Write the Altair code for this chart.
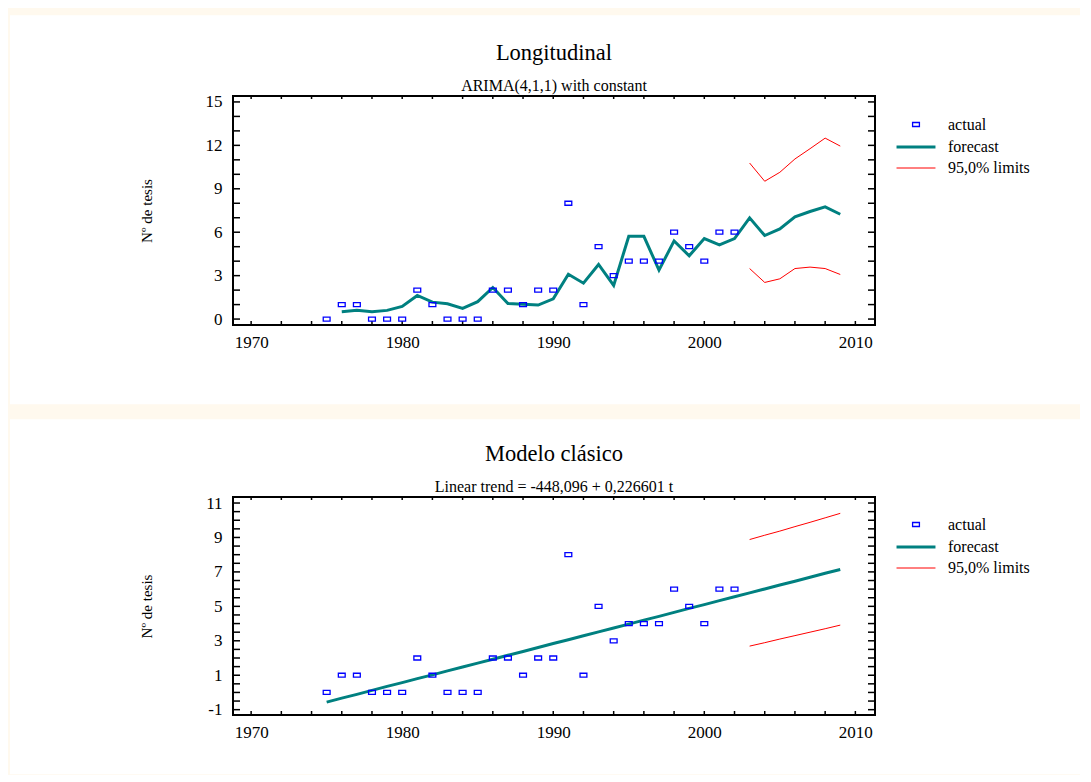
import altair as alt
import pandas as pd

# ---------------- data ----------------
years_actual = [1975, 1976, 1977, 1978, 1979, 1980, 1981, 1982, 1983, 1984,
                1985, 1986, 1987, 1988, 1989, 1990, 1991, 1992, 1993, 1994,
                1995, 1996, 1997, 1998, 1999, 2000, 2001, 2002]
actual = [0, 1, 1, 0, 0, 0, 2, 1, 0, 0,
          0, 2, 2, 1, 2, 2, 8, 1, 5, 3,
          4, 4, 4, 6, 5, 4, 6, 6]

years_forecast_top = list(range(1976, 2010))
forecast_top = [0.51, 0.60, 0.50, 0.60, 0.87, 1.63, 1.17, 1.06, 0.74, 1.20,
                2.18, 1.08, 1.03, 0.97, 1.40, 3.10, 2.48, 3.77, 2.32, 5.72,
                5.72, 3.38, 5.40, 4.37, 5.56, 5.13, 5.56, 6.99, 5.77, 6.23,
                7.06, 7.43, 7.75, 7.24]

years_limits = list(range(2003, 2010))
upper_top = [10.78, 9.52, 10.14, 11.06, 11.77, 12.50, 11.95]
lower_top = [3.49, 2.53, 2.78, 3.49, 3.59, 3.49, 3.08]

years_forecast_bottom = list(range(1975, 2010))
forecast_bottom = [-0.56, -0.33, -0.11, 0.12, 0.35, 0.57, 0.80, 1.02, 1.25, 1.48,
                   1.70, 1.93, 2.16, 2.38, 2.61, 2.84, 3.06, 3.29, 3.52, 3.74,
                   3.97, 4.20, 4.42, 4.65, 4.88, 5.10, 5.33, 5.56, 5.78, 6.01,
                   6.24, 6.46, 6.69, 6.92, 7.14]
upper_bottom = [8.88, 9.13, 9.37, 9.63, 9.88, 10.14, 10.40]
lower_bottom = [2.69, 2.89, 3.10, 3.30, 3.50, 3.70, 3.91]

x_labels = [1970, 1980, 1990, 2000, 2010]
x_ticks = list(range(1970, 2011, 2))
y_labels_top = [0, 3, 6, 9, 12, 15]
y_ticks_top = list(range(0, 16))
y_labels_bottom = [-1, 1, 3, 5, 7, 9, 11]
y_ticks_bottom = [-1, -0.5, 0, 0.5, 1, 1.5, 2, 2.5, 3, 3.5, 4, 4.5, 5, 5.5,
                  6, 6.5, 7, 7.5, 8, 8.5, 9, 9.5, 10, 10.5, 11]

SERIES = ["actual", "forecast", "95,0% limits"]
COLORS = ["#0000FF", "#008080", "#FF0000"]
WIDTHS = [1.3, 3, 1]

FONT = "Liberation Serif"
SQ = "M-0.36,-0.21H0.36V0.21H-0.36Z"
LN = "M-2.05,0H2.05"
W = 642


def make_panel(title, subtitle, fc_years, fc_vals, up, lo, ydom, ylabels,
               yticks, H, bg_top, bg_bottom, legend_y, title_offset):
    points_df = pd.DataFrame({"year": years_actual, "value": actual,
                              "series": "actual", "part": "actual"})
    lines_df = pd.concat([
        pd.DataFrame({"year": fc_years, "value": fc_vals,
                      "series": "forecast", "part": "forecast"}),
        pd.DataFrame({"year": years_limits, "value": up,
                      "series": "95,0% limits", "part": "upper"}),
        pd.DataFrame({"year": years_limits, "value": lo,
                      "series": "95,0% limits", "part": "lower"}),
    ], ignore_index=True)

    xs = alt.Scale(domain=[1968.8, 2011.3], nice=False, zero=False)
    ys = alt.Scale(domain=ydom, nice=False, zero=False)

    x_axis = alt.Axis(values=x_labels, labelExpr="datum.value + ''",
                      title=None, ticks=False, tickSize=0, domain=False,
                      grid=False, labelPadding=9, zindex=2)
    y_axis = alt.Axis(values=ylabels, labelExpr="datum.value + ''",
                      title="Nº de tesis", ticks=False, tickSize=0,
                      domain=False, grid=False, labelPadding=11,
                      titlePadding=51, zindex=2, titleFontSize=15,
                      titleFontWeight="normal")

    legend = alt.Legend(title=None, orient="none", legendX=672,
                        legendY=legend_y, symbolSize=361, labelOffset=21,
                        padding=0, rowPadding=3, labelFont=FONT,
                        labelFontSize=16, labelColor="black", labelLimit=0)

    color = alt.Color("series:N", scale=alt.Scale(domain=SERIES, range=COLORS),
                      legend=legend)
    shape = alt.Shape("series:N", scale=alt.Scale(domain=SERIES,
                                                  range=[SQ, LN, LN]),
                      legend=legend)
    sw = alt.StrokeWidth("series:N", scale=alt.Scale(type="ordinal",
                                                     domain=SERIES,
                                                     range=WIDTHS),
                         legend=legend)

    one = alt.Data(values=[{"k": 1}])
    bg = alt.Chart(one).mark_rect(color="white").encode(
        x=alt.value(-223), x2=alt.value(847),
        y=alt.value(bg_top), y2=alt.value(bg_bottom))

    yt = pd.DataFrame({"v": yticks})
    xt = pd.DataFrame({"v": x_ticks})
    left = alt.Chart(yt).mark_rule(color="black", strokeWidth=1.5).encode(
        y=alt.Y("v:Q", scale=ys, axis=y_axis), x=alt.value(0), x2=alt.value(7))
    right = alt.Chart(yt).mark_rule(color="black", strokeWidth=1.5).encode(
        y=alt.Y("v:Q", scale=ys, axis=y_axis), x=alt.value(W - 7),
        x2=alt.value(W))
    bottom = alt.Chart(xt).mark_rule(color="black", strokeWidth=1.5).encode(
        x=alt.X("v:Q", scale=xs, axis=x_axis), y=alt.value(H),
        y2=alt.value(H - 4))
    top = alt.Chart(xt).mark_rule(color="black", strokeWidth=1.5).encode(
        x=alt.X("v:Q", scale=xs, axis=x_axis), y=alt.value(0), y2=alt.value(3))

    lines = alt.Chart(lines_df).mark_line().encode(
        x=alt.X("year:Q", scale=xs, axis=x_axis),
        y=alt.Y("value:Q", scale=ys, axis=y_axis),
        color=color, strokeWidth=sw, detail="part:N")
    pts = alt.Chart(points_df).mark_point(filled=False, size=361,
                                          opacity=1).encode(
        x=alt.X("year:Q", scale=xs, axis=x_axis),
        y=alt.Y("value:Q", scale=ys, axis=y_axis),
        color=color, shape=shape, strokeWidth=sw)

    frame = alt.Chart(one).mark_rect(fillOpacity=0, stroke="black",
                                     strokeWidth=2).encode(
        x=alt.value(0), x2=alt.value(W), y=alt.value(0), y2=alt.value(H))

    return alt.layer(bg, left, right, bottom, top, lines, pts, frame).properties(
        width=W, height=H,
        title=alt.TitleParams(text=title, subtitle=subtitle, font=FONT,
                              fontSize=22.5, fontWeight="normal", color="black",
                              subtitleFont=FONT, subtitleFontSize=16,
                              subtitleColor="black", anchor="middle",
                              frame="group", offset=title_offset,
                              subtitlePadding=14))


top_panel = make_panel("Longitudinal", "ARIMA(4,1,1) with constant",
                       years_forecast_top, forecast_top, upper_top, lower_top,
                       [-0.41, 15.41], y_labels_top, y_ticks_top,
                       229, -80.7, 308.3, 18, -79)
bottom_panel = make_panel("Modelo clásico",
                          "Linear trend = -448,096 + 0,226601 t",
                          years_forecast_bottom, forecast_bottom, upper_bottom,
                          lower_bottom, [-1.31, 11.35], y_labels_bottom,
                          y_ticks_bottom, 218, -77.7, 277.3, 17, -76)

chart = alt.vconcat(top_panel, bottom_panel, spacing=14).resolve_scale(
    color="independent", shape="independent", strokeWidth="independent"
).properties(
    background="#FFF9EE",
    padding={"left": 2, "top": 7, "right": 0, "bottom": 0},
).configure_view(stroke=None).configure_axis(
    labelFont=FONT, labelFontSize=17, labelColor="black",
    titleFont=FONT, titleColor="black")

chart.save("out.html", embed_options={"renderer": "svg", "actions": False})
